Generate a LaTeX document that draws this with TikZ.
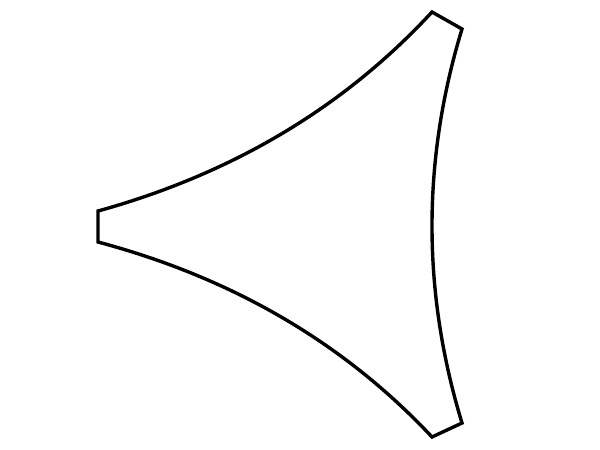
\documentclass[tikz,border=0pt]{standalone}
\begin{document}
\begin{tikzpicture}[x=1pt,y=-1pt,sail/.style={draw=black,line width=3.4pt,line join=miter,fill=white}]
\useasboundingbox[fill=white] (0,0) rectangle (600,450);
\coordinate (L1) at (98,211);
\coordinate (L2) at (98,242);
\coordinate (T1) at (432,12);
\coordinate (T2) at (462,29);
\coordinate (B1) at (462,423);
\coordinate (B2) at (432,437);
\draw[sail] (L1) .. controls (232.7,173.7) and (344,107.3) .. (T1) -- (T2)
  .. controls (422,160.3) and (422,291.7) .. (B1) -- (B2)
  .. controls (344,343) and (232.7,278) .. (L2) -- cycle;
\end{tikzpicture}
\end{document}
